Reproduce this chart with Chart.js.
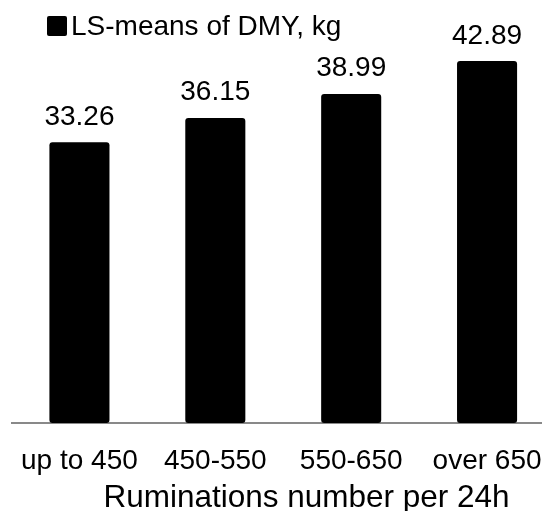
<!DOCTYPE html>
<html>
<head>
<meta charset="utf-8">
<script src="https://cdn.jsdelivr.net/npm/chart.js@4/dist/chart.umd.min.js"></script>
<style>
  html, body { margin: 0; padding: 0; background: #fff; overflow: hidden; }
  /* the plot runs slightly past the right edge, so the frame clips it */
  #wrap { width: 542px; height: 511px; overflow: hidden; position: relative; }
  #c { display: block; }
</style>
</head>
<body>
<div id="wrap"><canvas id="c" width="555" height="511"></canvas></div>
<script>
// Rumination classes and least-squares means of daily milk yield
const categories = ['up to 450', '450-550', '550-650', 'over 650'];
const dmyMeans = [33.26, 36.15, 38.99, 42.89];
const seriesName = 'LS-means of DMY, kg';
const axisTitle = 'Ruminations number per 24h';

const FONT = '"Liberation Sans", Arial, sans-serif';

// Writes each bar's value above it
const valueLabels = {
  id: 'valueLabels',
  afterDatasetsDraw(chart) {
    const ctx = chart.ctx;
    const meta = chart.getDatasetMeta(0);
    const values = chart.data.datasets[0].data;
    ctx.save();
    ctx.font = '28px ' + FONT;
    ctx.fillStyle = '#000';
    ctx.textAlign = 'center';
    ctx.textBaseline = 'alphabetic';
    meta.data.forEach((bar, i) => {
      ctx.fillText(values[i].toFixed(2), bar.x, bar.y - 17.5);
    });
    ctx.restore();
  }
};

// Compact series key in the upper left: swatch followed by the series name
const seriesKey = {
  id: 'seriesKey',
  afterDraw(chart) {
    const ctx = chart.ctx;
    const ds = chart.data.datasets[0];
    const x = 47, y = 16, size = 20;
    ctx.save();
    ctx.fillStyle = ds.backgroundColor;
    ctx.beginPath();
    ctx.roundRect(x, y, size, size, 2);
    ctx.fill();
    ctx.font = '28px ' + FONT;
    ctx.fillStyle = '#000';
    ctx.textAlign = 'left';
    ctx.textBaseline = 'middle';
    ctx.fillText(ds.label, x + size + 4, y + size / 2 + 1);
    ctx.restore();
  }
};

// Category axis caption, set a little right of the plot centre
const axisCaption = {
  id: 'axisCaption',
  afterDraw(chart) {
    const ctx = chart.ctx;
    const xScale = chart.scales.x;
    ctx.save();
    ctx.font = '31.5px ' + FONT;
    ctx.fillStyle = '#000';
    ctx.textAlign = 'center';
    ctx.textBaseline = 'middle';
    ctx.fillText(axisTitle, 306.5, xScale.bottom + 23);
    ctx.restore();
  }
};

new Chart(document.getElementById('c'), {
  type: 'bar',
  data: {
    labels: categories,
    datasets: [{
      label: seriesName,
      data: dmyMeans,
      backgroundColor: '#000',
      borderRadius: 3,
      borderSkipped: false,
      categoryPercentage: 1,
      barPercentage: 0.442
    }]
  },
  options: {
    responsive: false,
    animation: false,
    layout: { padding: { left: 11.5, right: 0, top: 1, bottom: 36 } },
    plugins: {
      legend: { display: false },
      tooltip: { enabled: false }
    },
    scales: {
      y: {
        display: false,
        min: 0,
        max: 50
      },
      x: {
        grid: { display: false, drawTicks: true, tickLength: 24 },
        border: { display: true, color: '#898989', width: 2 },
        ticks: {
          color: '#000',
          font: { size: 28, family: FONT, lineHeight: 1 },
          padding: 0,
          maxRotation: 0,
          autoSkip: false
        },
        title: { display: false }
      }
    }
  },
  plugins: [valueLabels, seriesKey, axisCaption]
});
</script>
</body>
</html>
